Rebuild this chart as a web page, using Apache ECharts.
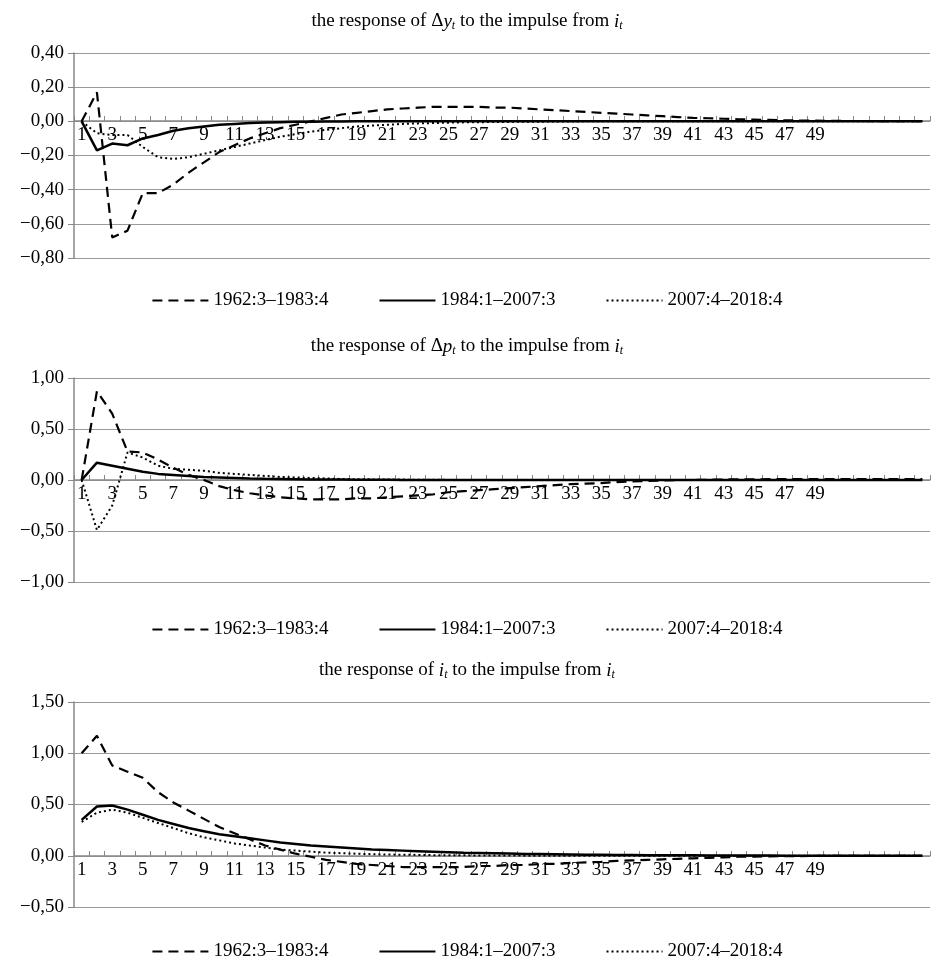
<!DOCTYPE html>
<html>
<head>
<meta charset="utf-8">
<script src="https://cdn.jsdelivr.net/npm/echarts@6/dist/echarts.min.js"></script>
<style>html,body{margin:0;padding:0;background:#fff}</style>
</head>
<body>
<div id="main" style="width:934px;height:961px;"></div>
<script type="text/javascript">
    // categories 1..56, labels only up to 49
    var periods = [];
    for (var k = 1; k <= 56; k++) periods.push(String(k));
    var seriesNames = ['1962:3\u20131983:4', '1984:1\u20132007:3', '2007:4\u20132018:4'];

    var dyEarly = [0, 0.17, -0.68, -0.64, -0.42, -0.42, -0.37, -0.30, -0.24, -0.18, -0.14, -0.10, -0.07, -0.04, -0.02, 0.00, 0.02, 0.04, 0.05, 0.06, 0.07, 0.075, 0.08, 0.085, 0.085, 0.085, 0.085, 0.08, 0.08, 0.075, 0.07, 0.065, 0.06, 0.055, 0.05, 0.045, 0.04, 0.035, 0.03, 0.025, 0.02, 0.018, 0.015, 0.012, 0.01, 0.008, 0.006, 0.005, 0.004, 0.003, 0.002, 0.002, 0.001, 0.001, 0.001, 0.001];
    var dyMid = [0, -0.17, -0.13, -0.14, -0.10, -0.08, -0.055, -0.04, -0.03, -0.02, -0.015, -0.01, -0.007, -0.005, -0.003, -0.002, -0.001, -0.001, 0, 0, 0, 0, 0, 0, 0, 0, 0, 0, 0, 0, 0, 0, 0, 0, 0, 0, 0, 0, 0, 0, 0, 0, 0, 0, 0, 0, 0, 0, 0, 0, 0, 0, 0, 0, 0, 0];
    var dyLate = [0, -0.07, -0.08, -0.08, -0.15, -0.21, -0.22, -0.21, -0.19, -0.17, -0.15, -0.13, -0.11, -0.09, -0.075, -0.06, -0.05, -0.04, -0.03, -0.025, -0.02, -0.015, -0.012, -0.01, -0.008, -0.006, -0.005, -0.004, -0.003, -0.002, -0.002, -0.001, -0.001, 0, 0, 0, 0, 0, 0, 0, 0, 0, 0, 0, 0, 0, 0, 0, 0, 0, 0, 0, 0, 0, 0, 0];

    var dpEarly = [0, 0.87, 0.65, 0.28, 0.27, 0.20, 0.12, 0.05, 0.00, -0.06, -0.10, -0.13, -0.15, -0.17, -0.18, -0.19, -0.19, -0.19, -0.18, -0.18, -0.17, -0.16, -0.15, -0.14, -0.12, -0.11, -0.10, -0.09, -0.08, -0.07, -0.06, -0.05, -0.04, -0.035, -0.03, -0.02, -0.015, -0.01, -0.005, 0, 0, 0.003, 0.005, 0.006, 0.007, 0.008, 0.008, 0.009, 0.009, 0.01, 0.01, 0.01, 0.01, 0.01, 0.01, 0.01];
    var dpMid = [0, 0.17, 0.14, 0.11, 0.08, 0.06, 0.05, 0.04, 0.03, 0.025, 0.02, 0.015, 0.012, 0.01, 0.008, 0.006, 0.005, 0.004, 0.003, 0.002, 0.002, 0.001, 0.001, 0, 0, 0, 0, 0, 0, 0, 0, 0, 0, 0, 0, 0, 0, 0, 0, 0, 0, 0, 0, 0, 0, 0, 0, 0, 0, 0, 0, 0, 0, 0, 0, 0];
    var dpLate = [0, -0.49, -0.25, 0.27, 0.22, 0.14, 0.11, 0.10, 0.09, 0.07, 0.06, 0.05, 0.04, 0.03, 0.025, 0.02, 0.015, 0.01, 0.008, 0.006, 0.005, 0.004, 0.003, 0.002, 0.001, 0, 0, 0, 0, 0, 0, 0, 0, 0, 0, 0, 0, 0, 0, 0, 0, 0, 0, 0, 0, 0, 0, 0, 0, 0, 0, 0, 0, 0, 0, 0];

    var irEarly = [1.00, 1.17, 0.88, 0.82, 0.76, 0.62, 0.52, 0.44, 0.36, 0.28, 0.22, 0.16, 0.10, 0.06, 0.02, -0.01, -0.04, -0.06, -0.08, -0.09, -0.10, -0.11, -0.11, -0.11, -0.11, -0.11, -0.10, -0.10, -0.09, -0.09, -0.08, -0.08, -0.07, -0.065, -0.06, -0.05, -0.045, -0.04, -0.035, -0.03, -0.025, -0.02, -0.015, -0.01, -0.008, -0.006, -0.004, -0.003, -0.002, -0.001, 0, 0, 0, 0, 0, 0];
    var irMid = [0.35, 0.48, 0.49, 0.45, 0.40, 0.35, 0.31, 0.27, 0.24, 0.21, 0.19, 0.17, 0.15, 0.13, 0.115, 0.10, 0.09, 0.08, 0.07, 0.06, 0.055, 0.05, 0.045, 0.04, 0.035, 0.03, 0.027, 0.024, 0.021, 0.018, 0.016, 0.014, 0.012, 0.01, 0.009, 0.008, 0.007, 0.006, 0.005, 0.004, 0.004, 0.003, 0.003, 0.002, 0.002, 0.002, 0.001, 0.001, 0.001, 0.001, 0, 0, 0, 0, 0, 0];
    var irLate = [0.33, 0.42, 0.45, 0.42, 0.37, 0.32, 0.27, 0.22, 0.18, 0.15, 0.12, 0.10, 0.08, 0.06, 0.05, 0.04, 0.03, 0.025, 0.02, 0.015, 0.012, 0.01, 0.008, 0.006, 0.005, 0.004, 0.003, 0.002, 0.002, 0.001, 0.001, 0, 0, 0, 0, 0, 0, 0, 0, 0, 0, 0, 0, 0, 0, 0, 0, 0, 0, 0, 0, 0, 0, 0, 0, 0];

    var FONT = 'Liberation Serif';
    var panels = [
        {top: 53, height: 205, min: -0.8, max: 0.4, step: 0.2, title: 6, legend: 286, zeroOff: -137,
         t: ['the response of \u0394', 'y', ' to the impulse from ', 'i'], data: [dyEarly, dyMid, dyLate]},
        {top: 378, height: 204, min: -1, max: 1, step: 0.5, title: 331, legend: 615, zeroOff: -102,
         t: ['the response of \u0394', 'p', ' to the impulse from ', 'i'], data: [dpEarly, dpMid, dpLate]},
        {top: 702, height: 205, min: -0.5, max: 1.5, step: 0.5, title: 655, legend: 937, zeroOff: -51,
         t: ['the response of ', 'i', ' to the impulse from ', 'i'], data: [irEarly, irMid, irLate]}
    ];
    var lineTypes = [[10, 6], 'solid', [2, 3]];
    var lineWidths = [2.2, 2.5, 2];

    var myChart = echarts.init(document.getElementById('main'));
    var titles = [], grids = [], xAxes = [], yAxes = [], series = [], legends = [];
    var rich = {
        n: {fontFamily: FONT, fontSize: 19, fontWeight: 'normal', color: '#000'},
        it: {fontFamily: FONT, fontSize: 19, fontWeight: 'normal', fontStyle: 'italic', color: '#000'},
        sub: {fontFamily: FONT, fontSize: 12, fontWeight: 'normal', fontStyle: 'italic', color: '#000', verticalAlign: 'bottom', padding: [9, 0, 0, 0]}
    };
    panels.forEach(function (p, i) {
        titles.push({
            text: '{n|' + p.t[0] + '}{it|' + p.t[1] + '}{sub|t}{n|' + p.t[2] + '}{it|' + p.t[3] + '}{sub|t}',
            left: 'center', top: p.title,
            textStyle: {fontWeight: 'normal', rich: rich}
        });
        grids.push({left: 74, right: 4, top: p.top, height: p.height});
        xAxes.push({
            type: 'category', gridIndex: i, data: periods, boundaryGap: true,
            position: 'bottom', offset: p.zeroOff,
            axisLine: {onZero: false, lineStyle: {color: '#888', width: 1.5}},
            axisTick: {show: true, interval: 0, length: 5, inside: true, lineStyle: {color: '#888'}},
            axisLabel: {
                interval: 0, margin: 5, fontFamily: FONT, fontSize: 19, color: '#000',
                formatter: function (v) { var n = +v; return (n % 2 === 1 && n <= 49) ? v : ''; }
            },
            splitLine: {show: false}
        });
        yAxes.push({
            type: 'value', gridIndex: i, min: p.min, max: p.max, interval: p.step,
            axisLine: {show: true, lineStyle: {color: '#888', width: 1.5}},
            axisTick: {show: true, length: 6, lineStyle: {color: '#888'}},
            axisLabel: {
                fontFamily: FONT, fontSize: 19, color: '#000', margin: 10,
                formatter: function (v) {
                    var s = Math.abs(v).toFixed(2).replace('.', ',');
                    return (v < -1e-9 ? '\u2212' : '') + s;
                }
            },
            splitLine: {show: true, lineStyle: {color: '#999', width: 1.2}}
        });
        var names = [];
        p.data.forEach(function (d, j) {
            var nm = seriesNames[j] + (i === 0 ? '' : ' '.repeat(i));
            names.push(nm);
            series.push({
                name: nm, type: 'line', xAxisIndex: i, yAxisIndex: i, data: d,
                symbol: 'none', showSymbol: false, smooth: false,
                lineStyle: {color: '#000', width: lineWidths[j], type: lineTypes[j]},
                itemStyle: {color: '#000'}
            });
        });
        legends.push({
            data: names, top: p.legend, left: 'center', itemWidth: 56, itemHeight: 12, itemGap: 50,
            itemStyle: {color: 'transparent', borderWidth: 0, opacity: 0},
            formatter: function (n) { return n.trim(); },
            textStyle: {fontFamily: FONT, fontSize: 19, color: '#000'}
        });
    });

    myChart.setOption({
        animation: false,
        title: titles, grid: grids, xAxis: xAxes, yAxis: yAxes, legend: legends, series: series
    });
</script>
</body>
</html>
